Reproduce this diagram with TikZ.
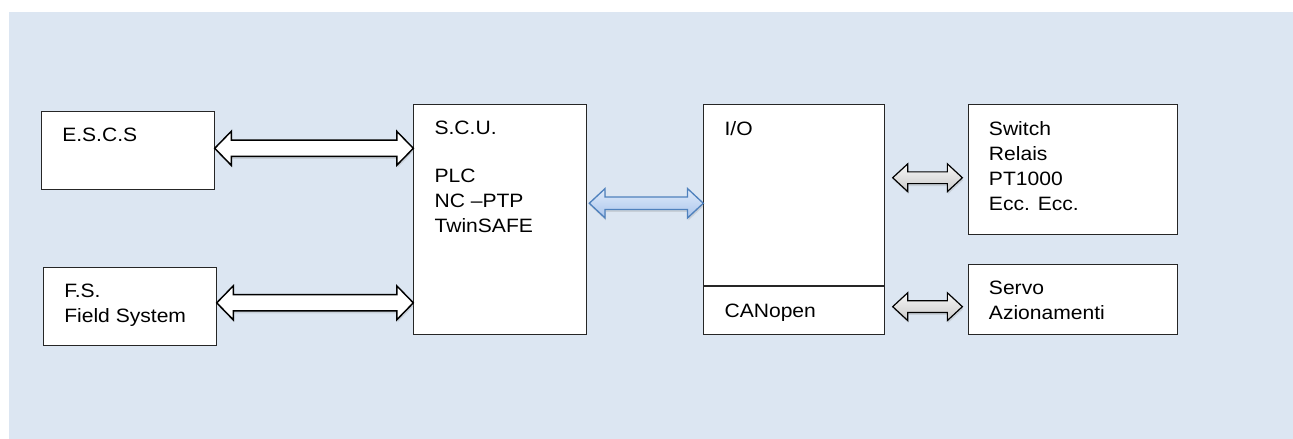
\documentclass[tikz,border=0pt]{standalone}
\usepackage{fontspec}
\setmainfont{Liberation Sans}[FakeStretch=1.09]
\usetikzlibrary{calc,positioning,shadows}

\definecolor{bgblue}{RGB}{220,230,242}
\definecolor{arrowblue}{RGB}{79,129,189}
\definecolor{lightblue}{RGB}{224,235,250}
\definecolor{midblue}{RGB}{170,197,236}

\tikzset{
  box/.style={draw=black!85,fill=white,line width=0.8pt,anchor=north west,inner sep=0pt},
  txt/.style={font=\fontsize{14.5}{18.75}\selectfont,align=left,inner sep=0pt},
  shade/.style={drop shadow={opacity=.22,shadow xshift=.6pt,shadow yshift=-1.8pt}},
  whitearrow/.style={draw=black,line width=1.1pt,fill=white,shade},
  bluearrow/.style={draw=arrowblue,line width=1pt,top color=lightblue,bottom color=midblue,shade},
  grayarrow/.style={draw=black,line width=.9pt,top color=gray!6,bottom color=gray!42,shade}
}

% block arrow: style, from, to, shaft half width, head half width, head length
\newcommand{\fatarrow}[6]{%
  \draw[#1] let \p1=#2, \p2=#3 in
    (\x1,\y1) -- ++(#6,#5) -- ++(0pt,-#5+#4) -- (\x2-#6,\y1+#4) -- ++(0pt,#5-#4)
    -- (\x2,\y1) -- ++(-#6,-#5) -- ++(0pt,#5-#4) -- (\x1+#6,\y1-#4) -- ++(0pt,-#5+#4) -- cycle;
}

\begin{document}
\begin{tikzpicture}[x=0.75pt,y=-0.75pt]
  \useasboundingbox (0,0) rectangle (1293,439);
  \fill[bgblue] (9,12) rectangle (1293,439);

  \node[box,minimum width=129.5pt,minimum height=59pt] (esc) at (41,110.7) {};
  \node[box,minimum width=129.5pt,minimum height=59pt] (fs) at (43,266.7) {};
  \node[box,minimum width=129.5pt,minimum height=172.5pt] (scu) at (413.3,104) {};
  \node[box,minimum width=135.75pt,minimum height=136pt] (io) at (703.3,104) {};
  \node[box,minimum width=135.75pt,minimum height=36pt] (can) at (io.south west) {};
  \node[box,minimum width=157.2pt,minimum height=97.5pt] (sw) at (967.7,104.3) {};
  \node[box,minimum width=157.2pt,minimum height=52.5pt] (srv) at (967.7,263.7) {};

  \node[txt,below right=12.7pt and 15.75pt of esc.north west] (esct) {E.S.C.S};
  \node[txt,below right=12.7pt and 15.75pt of fs.north west] (fst) {F.S.\\Field System};
  \node[txt,below right=12.7pt and 15.75pt of scu.north west] (scut)
    {S.C.U.\\[17pt]PLC\\NC --PTP\\TwinSAFE};
  \node[txt,below right=12.7pt and 15.75pt of io.north west] (iot) {I/O};
  \node[txt,below right=12.7pt and 15.75pt of can.north west] (cant) {CANopen};
  \node[txt,below right=12.7pt and 15.75pt of sw.north west] (swt)
    {Switch\\Relais\\PT1000\\Ecc. Ecc.};
  \node[txt,below right=12.7pt and 15.75pt of srv.north west] (srvt) {Servo\\Azionamenti};

  \foreach \a/\s in {esc/1.7pt,fs/2.8pt}
  \fatarrow{whitearrow}{([yshift=\s]\a.east)}{(scu.west)}{6.1pt}{12.75pt}{12.4pt}
  ;

  \fatarrow{bluearrow}{([xshift=1.7pt,yshift=12.2pt]scu.east)}{(io.west)}{4.7pt}{11pt}{11.8pt}

  \fatarrow{grayarrow}{([xshift=5.5pt,yshift=13.1pt]io.east)}{([xshift=-4pt]sw.west)}{4.4pt}{10.4pt}{11.25pt}
  \fatarrow{grayarrow}{([xshift=5.5pt,yshift=3.2pt]can.east)}{([xshift=-4pt]srv.west)}{4.4pt}{10.4pt}{11.25pt}
\end{tikzpicture}
\end{document}
